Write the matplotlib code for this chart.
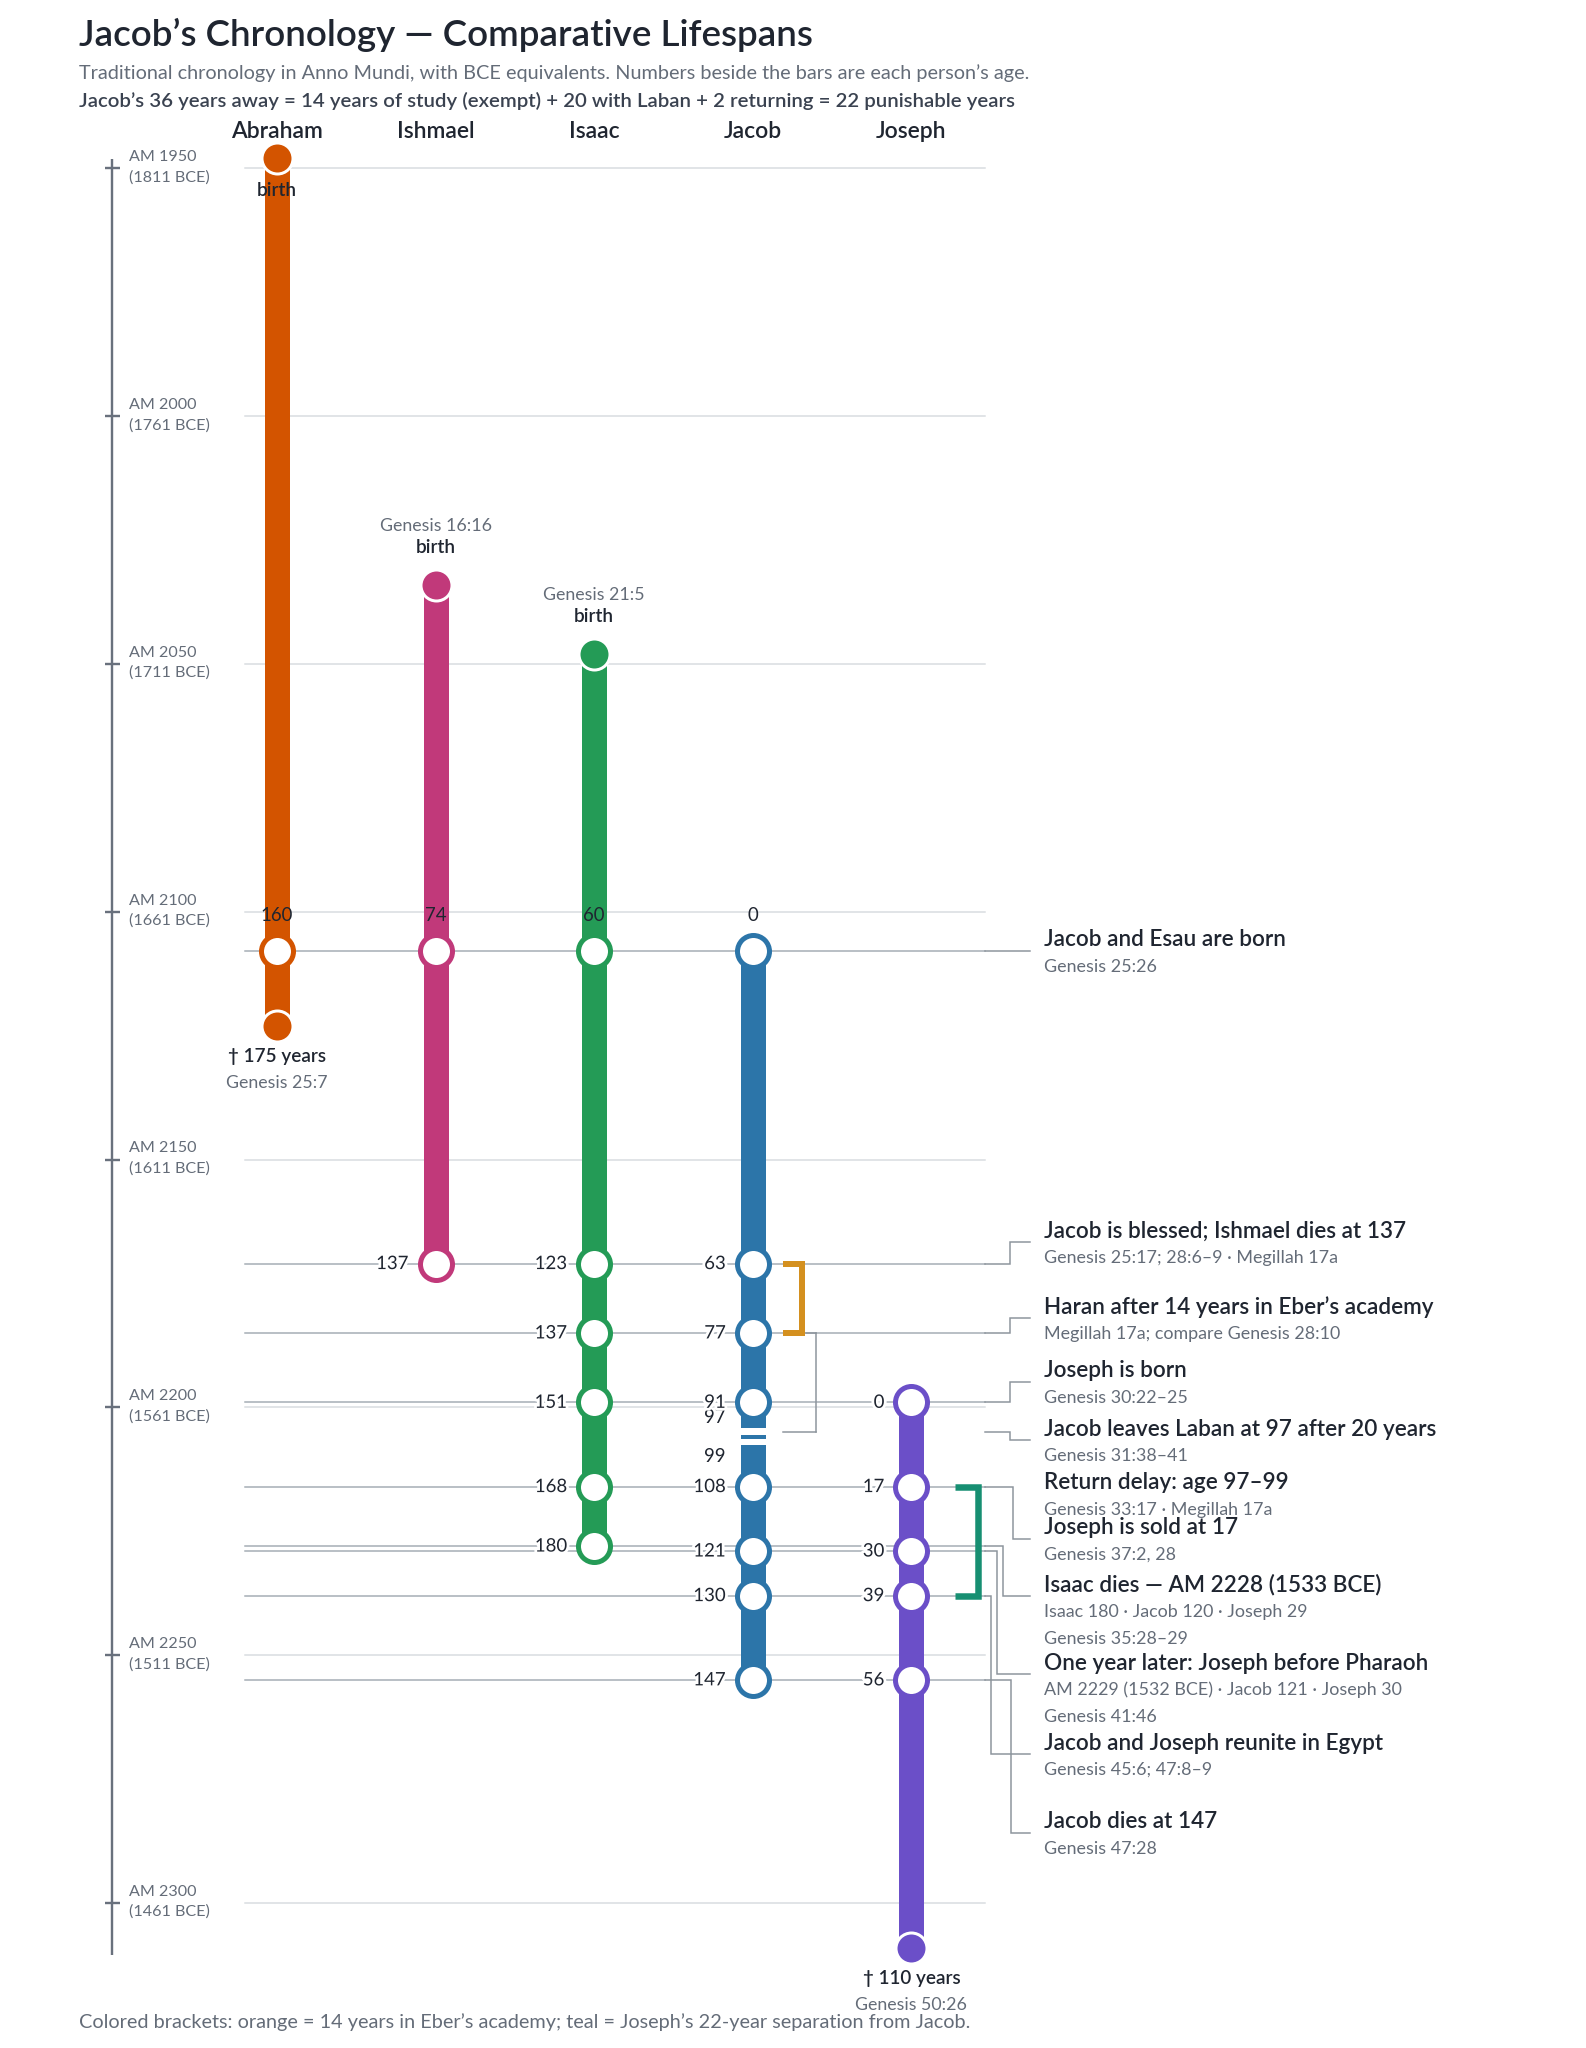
import matplotlib
matplotlib.use("Agg")
import matplotlib.pyplot as plt
import matplotlib.patheffects as pe
from matplotlib.patches import Rectangle

plt.rcParams['font.family'] = ['Lato', 'DejaVu Sans']

# ---------------- data ----------------
people = ["Abraham", "Ishmael", "Isaac", "Jacob", "Joseph"]
birth_am = [1948, 2034, 2048, 2108, 2199]
death_am = [2123, 2171, 2228, 2255, 2309]
person_colors = ["#d35400", "#c1397a", "#249b56", "#2c75a9", "#6b4fc8"]
birth_refs = [None, "Genesis 16:16", "Genesis 21:5", None, None]
death_refs = ["Genesis 25:7", None, None, None, "Genesis 50:26"]
birth_dot = [True, True, True, False, False]
death_dot = [True, False, False, False, True]

event_years = [2108, 2171, 2185, 2199, 2216, 2228, 2229, 2238, 2255]
event_people = [[0, 1, 2, 3], [1, 2, 3], [2, 3], [2, 3, 4], [2, 3, 4],
                [2], [3, 4], [3, 4], [3, 4]]

jacob_break_ages = [97, 99]

eber_years = [2171, 2185]
laban_years = [2185, 2205]
separation_years = [2216, 2238]

am_ticks = [1950, 2000, 2050, 2100, 2150, 2200, 2250, 2300]
bce_ticks = [1811, 1761, 1711, 1661, 1611, 1561, 1511, 1461]

annot_titles = [
    "Jacob and Esau are born",
    "Jacob is blessed; Ishmael dies at 137",
    "Haran after 14 years in Eber\u2019s academy",
    "Joseph is born",
    "Jacob leaves Laban at 97 after 20 years",
    "Return delay: age 97\u201399",
    "Joseph is sold at 17",
    "Isaac dies \u2014 AM 2228 (1533 BCE)",
    "One year later: Joseph before Pharaoh",
    "Jacob and Joseph reunite in Egypt",
    "Jacob dies at 147",
]
annot_subs = [
    ["Genesis 25:26"],
    ["Genesis 25:17; 28:6\u20139 \u00b7 Megillah 17a"],
    ["Megillah 17a; compare Genesis 28:10"],
    ["Genesis 30:22\u201325"],
    ["Genesis 31:38\u201341"],
    ["Genesis 33:17 \u00b7 Megillah 17a"],
    ["Genesis 37:2, 28"],
    ["Isaac 180 \u00b7 Jacob 120 \u00b7 Joseph 29", "Genesis 35:28\u201329"],
    ["AM 2229 (1532 BCE) \u00b7 Jacob 121 \u00b7 Joseph 30", "Genesis 41:46"],
    ["Genesis 45:6; 47:8\u20139"],
    ["Genesis 47:28"],
]
annot_event = [2108, 2171, 2185, 2199, 2205, None, 2216, 2228, 2229, 2238, 2255]

title = "Jacob\u2019s Chronology \u2014 Comparative Lifespans"
subtitle1 = ("Traditional chronology in Anno Mundi, with BCE equivalents. "
             "Numbers beside the bars are each person\u2019s age.")
subtitle2 = ("Jacob\u2019s 36 years away = 14 years of study (exempt) + 20 with Laban "
             "+ 2 returning = 22 punishable years")
footer = ("Colored brackets: orange = 14 years in Eber\u2019s academy; "
          "teal = Joseph\u2019s 22-year separation from Jacob.")

# ---------------- layout ----------------
W, H = 1586, 2048
Y0, PPY = 168.3, 4.956      # pixel of AM 1950, pixels per year
X0, PPC = 277.0, 158.6      # pixel of first column, pixels per column
PT = 0.72                   # points per pixel at dpi 100


def yr(px):
    return 1950 + (px - Y0) / PPY


def col(px):
    return (px - X0) / PPC


def dy(px):
    return px / PPY


def dx(px):
    return px / PPC


label_y_px = [951, 1242, 1318, 1382, 1440, 1494, 1539, 1596, 1674, 1754, 1833]
elbow_x_px = [None, 1010, 1010, 1010, 1010, None, 1013, 1003, 997, 991, 1011]

C_TEXT = "#1f2530"
C_GREY = "#646c78"
C_GRID = "#d8dce0"
C_EVENT = "#a4acb4"
C_LEAD = "#8c949c"

FS_AGE = 13.4
FS_TICK = 11.6
FS_ETITLE = 16.2
FS_ESUB = 12.9
FS_REF = 12.8

fig = plt.figure(figsize=(W / 100, H / 100), dpi=100)
ax = fig.add_axes([0, 0, 1, 1])
ax.set_xlim(col(0), col(W))
ax.set_ylim(yr(H), yr(0))
ax.axis("off")

# titles
fig.text(79 / W, 1 - 35 / H, title, fontsize=26.5, weight="semibold",
         color=C_TEXT, va="center", ha="left")
fig.text(79 / W, 1 - 73 / H, subtitle1, fontsize=14.35, color=C_GREY,
         va="center", ha="left")
fig.text(79 / W, 1 - 101 / H, subtitle2, fontsize=14.65, weight="semibold",
         color="#3a4250", va="center", ha="left")
fig.text(79 / W, 1 - 2022 / H, footer, fontsize=14.35, color=C_GREY,
         va="center", ha="left")

# column headers
for i, name in enumerate(people):
    ax.text(i, yr(131), name, fontsize=16.5, weight="semibold", color=C_TEXT,
            ha="center", va="center")

# left axis
ax_x = col(112)
ax.plot([ax_x, ax_x], [yr(159), yr(1955)], color="#69717d", lw=2.4 * PT,
        solid_capstyle="butt", zorder=2)
for am, bce in zip(am_ticks, bce_ticks):
    ax.plot([col(105), col(120)], [am, am], color="#69717d", lw=2.4 * PT,
            solid_capstyle="butt", zorder=2)
    ax.text(col(129), am - dy(11), f"AM {am}", fontsize=FS_TICK, color=C_GREY,
            ha="left", va="center")
    ax.text(col(129), am + dy(9), f"({bce} BCE)", fontsize=FS_TICK,
            color=C_GREY, ha="left", va="center")
    # gridline
    ax.plot([col(245), col(985)], [am, am], color=C_GRID, lw=1.5 * PT, zorder=1)

# event lines
for ey in event_years:
    ax.plot([col(245), col(985)], [ey, ey], color=C_EVENT, lw=1.5 * PT,
            zorder=1.5)

# bars
for i in range(len(people)):
    ax.plot([i, i], [birth_am[i], death_am[i]], color=person_colors[i],
            lw=25 * PT, solid_capstyle="butt", zorder=3)

# Jacob's break between ages 97 and 99
jb = birth_am[3]
b0, b1 = jb + jacob_break_ages[0], jb + jacob_break_ages[1]
mid = (b0 + b1) / 2
for s0, s1 in [(mid - 1.8, mid - 0.45), (mid + 0.4, mid + 1.7)]:
    ax.add_patch(Rectangle((3 - dx(14), s0), 2 * dx(14), s1 - s0,
                           facecolor="white", edgecolor="none", zorder=3.5))
ax.text(3 - dx(27), b0 - dy(15), str(jacob_break_ages[0]), fontsize=FS_AGE,
        color=C_TEXT, ha="right", va="center", zorder=6)
ax.text(3 - dx(27), b1 + dy(15), str(jacob_break_ages[1]), fontsize=FS_AGE,
        color=C_TEXT, ha="right", va="center", zorder=6)

# birth / death dots & labels
for i in range(len(people)):
    c = person_colors[i]
    if birth_dot[i]:
        ax.plot(i, birth_am[i], "o", ms=31 * PT, mfc=c, mec="white",
                mew=3 * PT, zorder=5)
        if birth_refs[i] is None:
            ax.text(i, birth_am[i] + dy(32), "birth", fontsize=13.6,
                    weight="semibold", color=C_TEXT, ha="center", va="center",
                    zorder=6)
        else:
            ax.text(i, birth_am[i] - dy(37), "birth", fontsize=13.6,
                    weight="semibold", color=C_TEXT, ha="center", va="center",
                    zorder=6)
            ax.text(i, birth_am[i] - dy(59), birth_refs[i], fontsize=FS_REF,
                    color=C_GREY, ha="center", va="center", zorder=6)
    if death_dot[i]:
        ax.plot(i, death_am[i], "o", ms=31 * PT, mfc=c, mec="white",
                mew=3 * PT, zorder=5)
        age = death_am[i] - birth_am[i]
        ax.text(i, death_am[i] + dy(31), f"\u2020 {age} years", fontsize=13.6,
                weight="semibold", color=C_TEXT, ha="center", va="center",
                zorder=6)
        ax.text(i, death_am[i] + dy(57), death_refs[i], fontsize=FS_REF,
                color=C_GREY, ha="center", va="center", zorder=6)

# event markers with ages
halo = [pe.withStroke(linewidth=4, foreground="white")]
for k, (ey, plist) in enumerate(zip(event_years, event_people)):
    for i in plist:
        c = person_colors[i]
        ax.plot(i, ey, "o", ms=32 * PT, mfc="white", mec=c, mew=5 * PT,
                zorder=5)
        age = ey - birth_am[i]
        if k == 0:
            ax.text(i, ey - dy(36), str(age), fontsize=FS_AGE, color=C_TEXT,
                    ha="center", va="center", zorder=6)
        else:
            ax.text(i - dx(27), ey, str(age), fontsize=FS_AGE, color=C_TEXT,
                    ha="right", va="center", zorder=6, path_effects=halo)

# brackets
ax.plot([col(816), col(816)], laban_years, color=C_LEAD, lw=1.5 * PT, zorder=4)
ax.plot([col(783), col(816)], [laban_years[1]] * 2, color=C_LEAD,
        lw=1.5 * PT, zorder=4)
ax.plot([col(806), col(816)], [laban_years[0]] * 2, color=C_LEAD,
        lw=1.5 * PT, zorder=4)

ax.plot([col(783), col(802), col(802), col(783)],
        [eber_years[0], eber_years[0], eber_years[1], eber_years[1]],
        color="#d4901f", lw=6 * PT, solid_joinstyle="miter",
        solid_capstyle="butt", zorder=4.5)
ax.plot([col(955), col(978), col(978), col(955)],
        [separation_years[0], separation_years[0],
         separation_years[1], separation_years[1]],
        color="#178f72", lw=6.5 * PT, solid_joinstyle="miter",
        solid_capstyle="butt", zorder=4.5)

# annotations with leaders
for k in range(len(annot_titles)):
    ly = yr(label_y_px[k])
    ev = annot_event[k]
    if ev is not None:
        if elbow_x_px[k] is None:
            ax.plot([col(985), col(1030)], [ev, ev], color=C_LEAD,
                    lw=1.5 * PT, zorder=2)
        else:
            ex = col(elbow_x_px[k])
            ax.plot([col(985), ex, ex, col(1030)], [ev, ev, ly, ly],
                    color=C_LEAD, lw=1.5 * PT, zorder=2,
                    solid_joinstyle="miter")
    ax.text(col(1044), ly - dy(11), annot_titles[k], fontsize=FS_ETITLE,
            weight="semibold", color=C_TEXT, ha="left", va="center", zorder=6)
    for j, s in enumerate(annot_subs[k]):
        ax.text(col(1044), ly + dy(16 + 27 * j), s, fontsize=FS_ESUB,
                color=C_GREY, ha="left", va="center", zorder=6)

fig.savefig("out.png", dpi=100, facecolor="white")
